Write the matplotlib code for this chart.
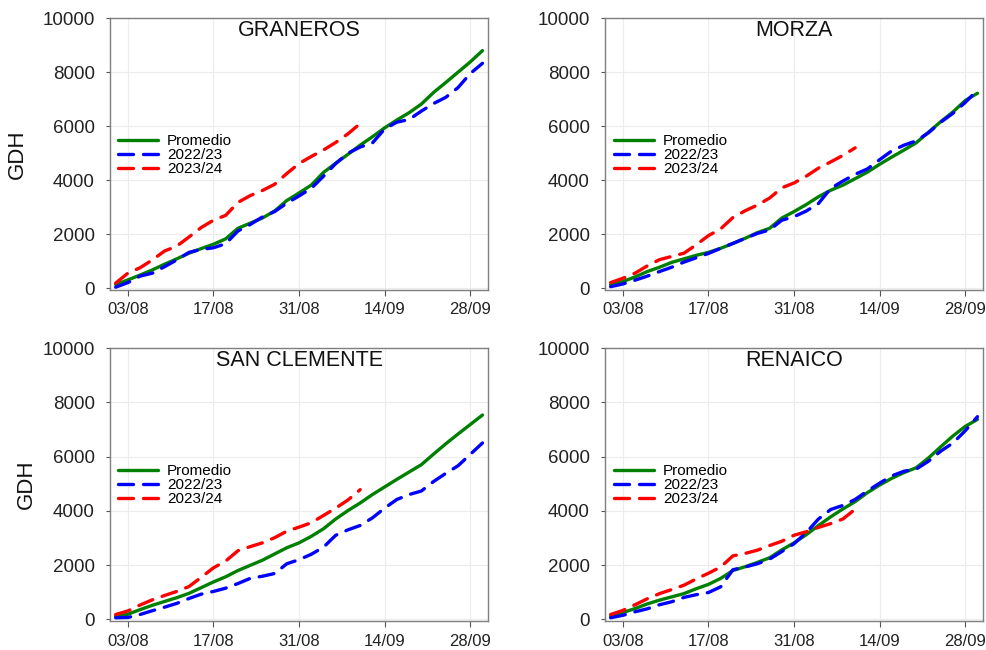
import numpy as np
import matplotlib
matplotlib.use("Agg")
import matplotlib.pyplot as plt
import matplotlib.dates as mdates

plt.rcParams['font.family'] = ['Liberation Sans', 'DejaVu Sans']

# ---- data ----
start = np.datetime64('2023-08-01')
days_all = np.arange(0, 61, 2)        # 01/08 .. 30/09 every 2 days
days_new = np.arange(0, 41, 2)        # 01/08 .. 10/09 every 2 days
dates_all = start + days_all.astype('timedelta64[D]')
dates_new = start + days_new.astype('timedelta64[D]')

stations = ["GRANEROS", "MORZA", "SAN CLEMENTE", "RENAICO"]
series_labels = ["Promedio", "2022/23", "2023/24"]

graneros_prom = [140, 310, 490, 680, 890, 1090, 1300, 1470, 1630, 1830, 2220, 2410, 2600, 2860, 3250, 3530,
                 3820, 4290, 4630, 4960, 5300, 5610, 5940, 6230, 6500, 6820, 7250, 7620, 8000, 8380, 8800]
graneros_2223 = [40, 210, 450, 560, 800, 1050, 1330, 1440, 1500, 1650, 2120, 2360, 2640, 2840, 3150, 3420,
                 3700, 4150, 4620, 5000, 5230, 5380, 5900, 6150, 6250, 6560, 6840, 7070, 7430, 7950, 8330]
graneros_2324 = [190, 560, 760, 1050, 1380, 1560, 1900, 2250, 2520, 2700, 3180, 3430, 3620, 3850, 4250, 4620,
                 4880, 5120, 5400, 5720, 6100]

morza_prom = [140, 250, 420, 620, 780, 960, 1090, 1220, 1330, 1480, 1660, 1850, 2060, 2220, 2600, 2840,
              3100, 3390, 3630, 3820, 4060, 4300, 4590, 4860, 5120, 5390, 5780, 6170, 6530, 6950, 7220]
morza_2223 = [60, 160, 300, 450, 620, 780, 970, 1130, 1290, 1480, 1660, 1850, 2030, 2160, 2520, 2650,
              2860, 3140, 3700, 3970, 4220, 4420, 4760, 5090, 5300, 5460, 5760, 6150, 6480, 6880, 7340]
morza_2324 = [210, 370, 560, 830, 1060, 1180, 1300, 1610, 1950, 2200, 2620, 2870, 3080, 3340, 3720, 3900,
              4150, 4450, 4680, 4920, 5200]

sanclemente_prom = [110, 190, 360, 520, 660, 800, 960, 1170, 1380, 1570, 1800, 1990, 2180, 2410, 2640, 2820,
                    3060, 3340, 3700, 4010, 4290, 4600, 4880, 5160, 5430, 5700, 6090, 6470, 6830, 7180, 7530]
sanclemente_2223 = [60, 70, 180, 320, 450, 590, 770, 930, 1030, 1150, 1320, 1510, 1590, 1690, 2050, 2200,
                    2400, 2660, 3100, 3300, 3460, 3740, 4100, 4420, 4600, 4730, 5080, 5380, 5660, 6080, 6500]
sanclemente_2324 = [180, 310, 530, 720, 880, 1030, 1210, 1550, 1900, 2150, 2530, 2680, 2820, 3010, 3250, 3400,
                    3560, 3830, 4100, 4400, 4780]

renaico_prom = [120, 250, 400, 570, 710, 830, 950, 1130, 1290, 1510, 1800, 1940, 2100, 2270, 2560, 2820,
                3120, 3460, 3780, 4070, 4340, 4670, 4950, 5200, 5410, 5590, 5950, 6360, 6760, 7110, 7370]
renaico_2223 = [60, 150, 280, 390, 540, 650, 810, 910, 990, 1200, 1830, 1930, 2050, 2220, 2500, 2790,
                3200, 3700, 4050, 4200, 4420, 4730, 5020, 5290, 5460, 5540, 5830, 6200, 6500, 6950, 7470]
renaico_2324 = [180, 330, 540, 760, 950, 1100, 1260, 1490, 1700, 1930, 2340, 2430, 2550, 2720, 2880, 3100,
                3230, 3390, 3530, 3700, 4060]

xtick_dates = ['2023-08-03', '2023-08-17', '2023-08-31', '2023-09-14', '2023-09-28']
yticks = [0, 2000, 4000, 6000, 8000, 10000]

data = {
    "GRANEROS": (graneros_prom, graneros_2223, graneros_2324),
    "MORZA": (morza_prom, morza_2223, morza_2324),
    "SAN CLEMENTE": (sanclemente_prom, sanclemente_2223, sanclemente_2324),
    "RENAICO": (renaico_prom, renaico_2223, renaico_2324),
}

# ---- layout ----
fig = plt.figure(figsize=(9.87, 6.5), dpi=100)
positions = [
    [0.1115, 0.554, 0.383, 0.418],
    [0.613, 0.554, 0.383, 0.418],
    [0.1115, 0.0446, 0.383, 0.420],
    [0.613, 0.0446, 0.383, 0.420],
]
ylabel_x = [-0.217, None, -0.193, None]

xmin = start - np.timedelta64(22, 'h')
xmax = start + np.timedelta64(60, 'D') + np.timedelta64(22, 'h')

for i, name in enumerate(stations):
    ax = fig.add_axes(positions[i])
    prom, s2223, s2324 = data[name]
    ax.plot(dates_all, prom, color='#008000', lw=2.4, label=series_labels[0],
            solid_capstyle='round', zorder=3)
    ax.plot(dates_all, s2223, color='#0000FF', lw=2.4, label=series_labels[1],
            dashes=(4.5, 3.0), dash_capstyle='round', zorder=4)
    ax.plot(dates_new, s2324, color='#FF0000', lw=2.4, label=series_labels[2],
            dashes=(4.5, 3.0), dash_capstyle='round', zorder=5)

    ax.set_xlim(xmin, xmax)
    ax.set_ylim(-60, 10000)
    ax.set_yticks(yticks)
    ax.set_xticks([np.datetime64(d) for d in xtick_dates])
    ax.xaxis.set_major_formatter(mdates.DateFormatter('%d/%m'))
    ax.tick_params(axis='x', length=4, width=0.8, color='#555555', pad=5,
                   labelsize=12, labelcolor='#222222')
    ax.tick_params(axis='y', length=3, width=0.8, color='#555555', pad=8,
                   labelsize=13.5, labelcolor='#222222')
    ax.grid(True, color='#ececec', lw=0.8, zorder=0)
    for sp in ax.spines.values():
        sp.set_color('#7f7f7f')
        sp.set_linewidth(1.0)

    ax.text(0.5, 0.955, name, transform=ax.transAxes, ha='center', va='center',
            fontsize=15.5, color='#111111')

    if ylabel_x[i] is not None:
        ax.set_ylabel("GDH", fontsize=16, color='#111111')
        ax.yaxis.set_label_coords(ylabel_x[i], 0.5)

    lx = 0.021 if i % 2 == 0 else 0.024
    ax.legend(loc='center left', bbox_to_anchor=(lx, 0.497), frameon=False,
              fontsize=11, handlelength=2.6, handletextpad=0.6, labelspacing=0.0,
              borderpad=0, borderaxespad=0)

fig.savefig("out.png", dpi=100)
